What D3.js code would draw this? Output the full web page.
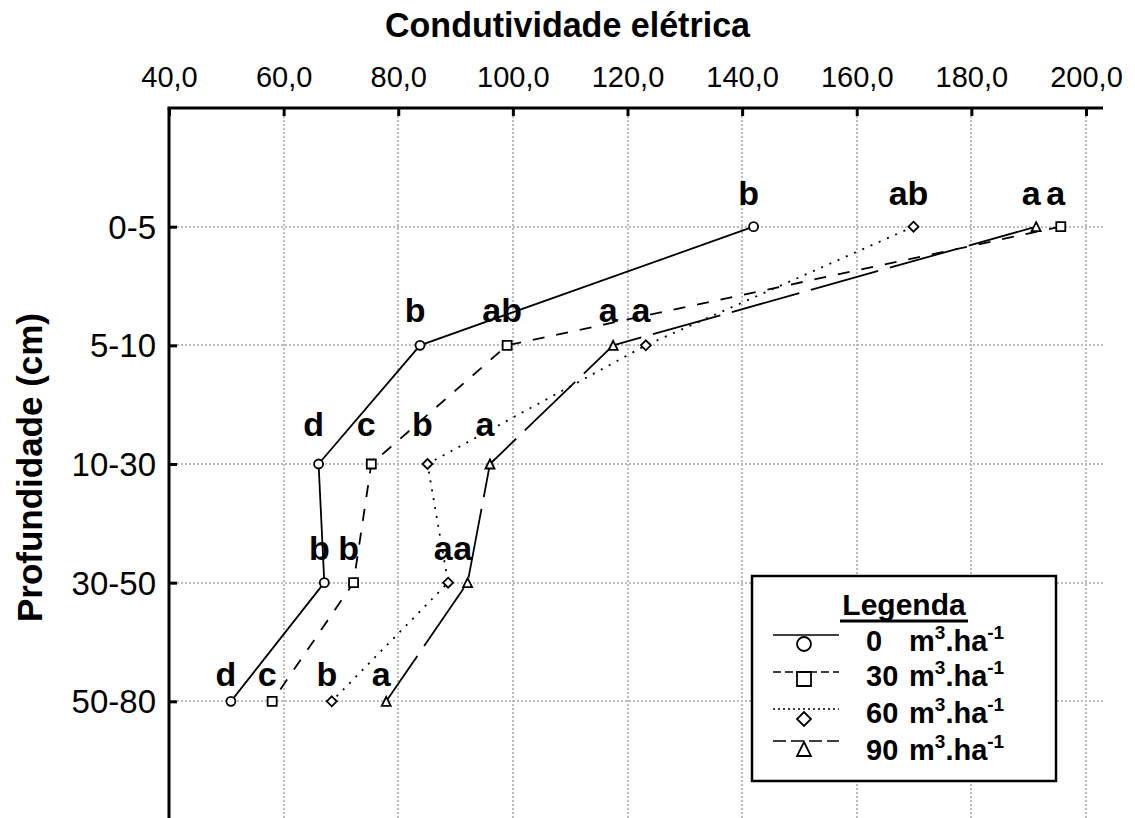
<!DOCTYPE html>
<html>
<head>
<meta charset="utf-8">
<script src="https://cdn.jsdelivr.net/npm/d3@7"></script>
<style>
  html, body { margin: 0; padding: 0; background: #fff; }
  svg { display: block; font-family: "Liberation Sans", Arial, sans-serif; }
</style>
</head>
<body>
<svg id="chart" width="1135" height="818"></svg>
<script>
// Soil depth layers (rows) and manure doses (series)
const depths = ["0-5", "5-10", "10-30", "30-50", "50-80"];
const doses = ["0", "30", "60", "90"];

// Electrical conductivity per depth, one array per dose
const ce0  = [142.0, 83.8, 66.1, 67.1, 50.8];
const ce30 = [195.6, 99.0, 75.3, 72.2, 58.0];
const ce60 = [169.9, 123.2, 85.1, 88.7, 68.4];
const ce90 = [191.3, 117.5, 96.0, 92.1, 77.9];

// Mean-comparison letters per depth, one array per dose
const let0  = ["b", "b", "d", "b", "d"];
const let30 = ["a", "ab", "c", "b", "c"];
const let60 = ["ab", "a", "b", "a", "b"];
const let90 = ["a", "a", "a", "a", "a"];

// Axis ticks
const xTicks = [40, 60, 80, 100, 120, 140, 160, 180, 200];

const series = [
  { dose: doses[0], values: ce0,  letters: let0,  shape: "circle",   dash: null,    legendDash: null },
  { dose: doses[1], values: ce30, letters: let30, shape: "square",   dash: "12,12", legendDash: "8,4" },
  { dose: doses[2], values: ce60, letters: let60, shape: "diamond",  dash: "2,7",   legendDash: "2,3" },
  { dose: doses[3], values: ce90, letters: let90, shape: "triangle", dash: "70,12", legendDash: "13,5" }
];

const svg = d3.select("#chart");
const plot = { left: 169, right: 1103, top: 108, bottom: 820 };

const x = d3.scaleLinear().domain([40, 200]).range([169, 1086]);
const y = d3.scalePoint().domain(depths).range([plot.top, plot.bottom]).padding(1);

// marker path generator centred at 0,0
function markerPath(shape, s) {
  const h = s / 2;
  if (shape === "circle") {
    return `M${-h},0A${h},${h} 0 1,0 ${h},0A${h},${h} 0 1,0 ${-h},0Z`;
  }
  if (shape === "square") {
    return `M${-h},${-h}H${h}V${h}H${-h}Z`;
  }
  if (shape === "diamond") {
    return `M0,${-h}L${h},0L0,${h}L${-h},0Z`;
  }
  return `M0,${-h}L${h},${h}L${-h},${h}Z`;
}

// gridlines (dotted grey, pixel-aligned)
const grid = svg.append("g").attr("stroke", "#bcbcbc").attr("stroke-width", 2)
  .attr("stroke-dasharray", "2,2").attr("shape-rendering", "crispEdges");
grid.selectAll("line.v").data(xTicks.slice(1)).join("line")
  .attr("x1", d => Math.round(x(d))).attr("x2", d => Math.round(x(d)))
  .attr("y1", plot.top).attr("y2", plot.bottom);
grid.selectAll("line.h").data(depths).join("line")
  .attr("x1", plot.left).attr("x2", plot.right)
  .attr("y1", d => Math.round(y(d))).attr("y2", d => Math.round(y(d)));

// series lines
const line = d3.line().x(d => x(d.v)).y(d => y(d.depth));
series.forEach(s => {
  s.points = s.values.map((v, i) => ({ v, depth: depths[i], letter: s.letters[i] }));
  svg.append("path")
    .attr("d", line(s.points))
    .attr("fill", "none")
    .attr("stroke", "#000")
    .attr("stroke-width", 1.8)
    .attr("stroke-dasharray", s.dash);
});

// markers
series.forEach(s => {
  svg.append("g").selectAll("path").data(s.points).join("path")
    .attr("transform", d => `translate(${x(d.v)},${y(d.depth)})`)
    .attr("d", markerPath(s.shape, s.shape === "diamond" ? 10 : 9))
    .attr("fill", "#fff")
    .attr("stroke", "#000")
    .attr("stroke-width", 1.8);
});

// significance letters above each point
const lift = [22, 23, 28, 23, 15];
series.forEach(s => {
  svg.append("g").selectAll("text").data(s.points).join("text")
    .attr("x", d => x(d.v) - 5)
    .attr("y", (d, i) => y(d.depth) - lift[i])
    .attr("text-anchor", "middle")
    .attr("font-size", 34)
    .attr("font-weight", "bold")
    .text(d => d.letter);
});

// top axis
const fmt = d => d3.format(".1f")(d).replace(".", ",");
const xAxis = svg.append("g")
  .attr("transform", `translate(0,${plot.top})`)
  .call(d3.axisTop(x).tickValues(xTicks).tickFormat(fmt).tickSizeInner(-8).tickSizeOuter(0).tickPadding(21));
xAxis.select(".domain").remove();
xAxis.selectAll(".tick line").attr("stroke-width", 3);
xAxis.selectAll("text").attr("font-size", 29).attr("font-family", "Liberation Sans, Arial, sans-serif").attr("fill", "#000");

// left axis
const yAxis = svg.append("g")
  .attr("transform", `translate(${plot.left},0)`)
  .call(d3.axisLeft(y).tickSizeInner(-8).tickSizeOuter(0).tickPadding(13));
yAxis.select(".domain").remove();
yAxis.selectAll(".tick line").attr("stroke-width", 3);
yAxis.selectAll("text").attr("font-size", 33).attr("font-family", "Liberation Sans, Arial, sans-serif")
  .attr("fill", "#000").attr("dy", "0.35em");

// axis frame lines
svg.append("line").attr("x1", plot.left - 1.5).attr("x2", plot.right)
  .attr("y1", plot.top).attr("y2", plot.top).attr("stroke", "#000").attr("stroke-width", 3);
svg.append("line").attr("x1", plot.left).attr("x2", plot.left)
  .attr("y1", plot.top).attr("y2", plot.bottom).attr("stroke", "#000").attr("stroke-width", 3);

// titles
svg.append("text")
  .attr("x", 385).attr("y", 37)
  .attr("font-size", 35).attr("font-weight", "bold")
  .attr("textLength", 365).attr("lengthAdjust", "spacingAndGlyphs")
  .text("Condutividade elétrica");

svg.append("text")
  .attr("transform", "translate(42,622) rotate(-90)")
  .attr("font-size", 35).attr("font-weight", "bold")
  .attr("textLength", 309).attr("lengthAdjust", "spacingAndGlyphs")
  .text("Profundidade (cm)");

// legend
const lg = svg.append("g");
lg.append("rect").attr("x", 752).attr("y", 576).attr("width", 304).attr("height", 205)
  .attr("fill", "#fff").attr("stroke", "#000").attr("stroke-width", 2.5);
lg.append("text").attr("x", 904).attr("y", 615).attr("text-anchor", "middle")
  .attr("font-size", 30).attr("font-weight", "bold").text("Legenda");
lg.append("line").attr("x1", 840).attr("x2", 968).attr("y1", 621).attr("y2", 621)
  .attr("stroke", "#000").attr("stroke-width", 3);

const rowLine = [635, 672, 709, 741];
const rowMark = [644, 679, 719, 749];
const rowText = [651, 686, 723, 760];
series.forEach((s, i) => {
  lg.append("line").attr("x1", 773).attr("x2", 839).attr("y1", rowLine[i]).attr("y2", rowLine[i])
    .attr("stroke", "#000").attr("stroke-width", 1.6).attr("stroke-dasharray", s.legendDash);
  lg.append("path").attr("transform", `translate(804,${rowMark[i]})`)
    .attr("d", markerPath(s.shape, 14))
    .attr("fill", "#fff").attr("stroke", "#000").attr("stroke-width", 1.8);
  lg.append("text").attr("x", 866).attr("y", rowText[i])
    .attr("font-size", 29).attr("font-weight", "bold").text(s.dose);
  const t = lg.append("text").attr("x", 909).attr("y", rowText[i])
    .attr("font-size", 29).attr("font-weight", "bold");
  t.append("tspan").text("m");
  t.append("tspan").attr("font-size", 19).attr("dy", -12).text("3");
  t.append("tspan").attr("dy", 12).text(".ha");
  t.append("tspan").attr("font-size", 19).attr("dy", -12).text("-1");
});
</script>
</body>
</html>
